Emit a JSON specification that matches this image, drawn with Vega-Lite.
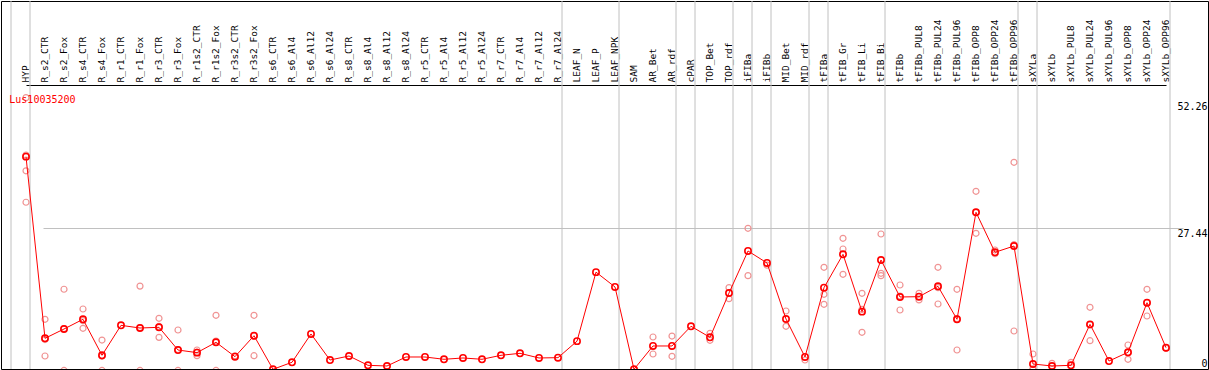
{
  "$schema": "https://vega.github.io/schema/vega-lite/v6.json",
  "autosize": "none",
  "padding": {"left": 1, "top": 1, "right": 1, "bottom": 1},
  "width": 1207,
  "height": 368,
  "background": "white",
  "config": {"view": {"stroke": "black", "strokeWidth": 1}},
  "title": {"text": "Lus10035200", "orient": "bottom", "anchor": "start", "frame": "group", "color": "#ff0000", "font": "DejaVu Sans Mono", "fontSize": 10, "fontWeight": "normal", "baseline": "alphabetic", "offset": 0, "dx": 8.3, "dy": -268.5},
  "datasets": {
    "means": [
      {"cat": "HYP", "v": 41.0}, {"cat": "R_s2_CTR", "v": 6.33}, {"cat": "R_s2_Fox", "v": 8.11}, {"cat": "R_s4_CTR", "v": 9.96}, {"cat": "R_s4_Fox", "v": 3.09},
      {"cat": "R_r1_CTR", "v": 8.81}, {"cat": "R_r1_Fox", "v": 8.3}, {"cat": "R_r3_CTR", "v": 8.43}, {"cat": "R_r3_Fox", "v": 4.1}, {"cat": "R_r1s2_CTR", "v": 3.6},
      {"cat": "R_r1s2_Fox", "v": 5.57}, {"cat": "R_r3s2_CTR", "v": 2.83}, {"cat": "R_r3s2_Fox", "v": 6.83}, {"cat": "R_s6_CTR", "v": 0.42}, {"cat": "R_s6_Al4", "v": 1.76},
      {"cat": "R_s6_Al12", "v": 7.16}, {"cat": "R_s6_Al24", "v": 2.19}, {"cat": "R_s8_CTR", "v": 2.96}, {"cat": "R_s8_Al4", "v": 1.18}, {"cat": "R_s8_Al12", "v": 1.05},
      {"cat": "R_s8_Al24", "v": 2.77}, {"cat": "R_r5_CTR", "v": 2.77}, {"cat": "R_r5_Al4", "v": 2.33}, {"cat": "R_r5_Al12", "v": 2.58}, {"cat": "R_r5_Al24", "v": 2.33},
      {"cat": "R_r7_CTR", "v": 3.09}, {"cat": "R_r7_Al4", "v": 3.47}, {"cat": "R_r7_Al12", "v": 2.58}, {"cat": "R_r7_Al24", "v": 2.64}, {"cat": "LEAF_N", "v": 5.79},
      {"cat": "LEAF_P", "v": 18.96}, {"cat": "LEAF_NPK", "v": 16.13}, {"cat": "SAM", "v": 0.42}, {"cat": "AR_Bet", "v": 4.87}, {"cat": "AR_rdf", "v": 4.87},
      {"cat": "cPAR", "v": 8.63}, {"cat": "TOP_Bet", "v": 6.52}, {"cat": "TOP_rdf", "v": 14.98}, {"cat": "iFIBa", "v": 23.0}, {"cat": "iFIBb", "v": 20.71},
      {"cat": "MID_Bet", "v": 10.02}, {"cat": "MID_rdf", "v": 2.77}, {"cat": "tFIBa", "v": 16.0}, {"cat": "tFIB_Gr", "v": 22.36}, {"cat": "tFIB_Li", "v": 11.42},
      {"cat": "tFIB_Bi", "v": 21.28}, {"cat": "tFIBb", "v": 14.22}, {"cat": "tFIBb_PUL8", "v": 14.28}, {"cat": "tFIBb_PUL24", "v": 16.26}, {"cat": "tFIBb_PUL96", "v": 9.96},
      {"cat": "tFIBb_OPP8", "v": 30.38}, {"cat": "tFIBb_OPP24", "v": 22.75}, {"cat": "tFIBb_OPP96", "v": 23.95}, {"cat": "sXYLa", "v": 1.43}, {"cat": "sXYLb", "v": 1.05},
      {"cat": "sXYLb_PUL8", "v": 1.18}, {"cat": "sXYLb_PUL24", "v": 9.0}, {"cat": "sXYLb_PUL96", "v": 2.0}, {"cat": "sXYLb_OPP8", "v": 3.66}, {"cat": "sXYLb_OPP24", "v": 13.13},
      {"cat": "sXYLb_OPP96", "v": 4.54}
    ],
    "reps": [
      {"cat": "HYP", "v": 52.26}, {"cat": "HYP", "v": 41.3}, {"cat": "HYP", "v": 38.3}, {"cat": "HYP", "v": 32.3},
      {"cat": "R_s2_CTR", "v": 9.96}, {"cat": "R_s2_CTR", "v": 6.1}, {"cat": "R_s2_CTR", "v": 2.96},
      {"cat": "R_s2_Fox", "v": 15.7}, {"cat": "R_s2_Fox", "v": 8.2}, {"cat": "R_s2_Fox", "v": 0.2},
      {"cat": "R_s4_CTR", "v": 11.93}, {"cat": "R_s4_CTR", "v": 9.7}, {"cat": "R_s4_CTR", "v": 8.24},
      {"cat": "R_s4_Fox", "v": 6.0}, {"cat": "R_s4_Fox", "v": 2.9}, {"cat": "R_s4_Fox", "v": 0.2},
      {"cat": "R_r1_Fox", "v": 16.3}, {"cat": "R_r1_Fox", "v": 8.4}, {"cat": "R_r1_Fox", "v": 0.2},
      {"cat": "R_r3_CTR", "v": 10.15}, {"cat": "R_r3_CTR", "v": 8.6}, {"cat": "R_r3_CTR", "v": 6.52},
      {"cat": "R_r3_Fox", "v": 7.92}, {"cat": "R_r3_Fox", "v": 4.2}, {"cat": "R_r3_Fox", "v": 0.2},
      {"cat": "R_r1s2_CTR", "v": 4.1}, {"cat": "R_r1s2_CTR", "v": 3.7}, {"cat": "R_r1s2_CTR", "v": 3.02},
      {"cat": "R_r1s2_Fox", "v": 10.72}, {"cat": "R_r1s2_Fox", "v": 5.8}, {"cat": "R_r1s2_Fox", "v": 0.2},
      {"cat": "R_r3s2_CTR", "v": 3.0},
      {"cat": "R_r3s2_Fox", "v": 10.72}, {"cat": "R_r3s2_Fox", "v": 6.75}, {"cat": "R_r3s2_Fox", "v": 3.02},
      {"cat": "AR_Bet", "v": 6.58}, {"cat": "AR_Bet", "v": 3.34},
      {"cat": "AR_rdf", "v": 6.77}, {"cat": "AR_rdf", "v": 2.9},
      {"cat": "TOP_Bet", "v": 7.28}, {"cat": "TOP_Bet", "v": 5.95},
      {"cat": "TOP_rdf", "v": 16.0}, {"cat": "TOP_rdf", "v": 13.9},
      {"cat": "iFIBa", "v": 27.33}, {"cat": "iFIBa", "v": 18.29},
      {"cat": "iFIBb", "v": 20.3},
      {"cat": "MID_Bet", "v": 11.55}, {"cat": "MID_Bet", "v": 8.63},
      {"cat": "MID_rdf", "v": 2.19},
      {"cat": "tFIBa", "v": 19.88}, {"cat": "tFIBa", "v": 14.73}, {"cat": "tFIBa", "v": 12.82},
      {"cat": "tFIB_Gr", "v": 25.42}, {"cat": "tFIB_Gr", "v": 23.38}, {"cat": "tFIB_Gr", "v": 18.55},
      {"cat": "tFIB_Li", "v": 14.92}, {"cat": "tFIB_Li", "v": 11.86}, {"cat": "tFIB_Li", "v": 7.48},
      {"cat": "tFIB_Bi", "v": 26.24}, {"cat": "tFIB_Bi", "v": 18.74}, {"cat": "tFIB_Bi", "v": 18.29},
      {"cat": "tFIBb", "v": 16.51}, {"cat": "tFIBb", "v": 14.41}, {"cat": "tFIBb", "v": 11.74},
      {"cat": "tFIBb_PUL8", "v": 14.92}, {"cat": "tFIBb_PUL8", "v": 14.3}, {"cat": "tFIBb_PUL8", "v": 13.65},
      {"cat": "tFIBb_PUL24", "v": 19.88}, {"cat": "tFIBb_PUL24", "v": 16.0}, {"cat": "tFIBb_PUL24", "v": 12.88},
      {"cat": "tFIBb_PUL96", "v": 15.69}, {"cat": "tFIBb_PUL96", "v": 10.09}, {"cat": "tFIBb_PUL96", "v": 4.1},
      {"cat": "tFIBb_OPP8", "v": 34.39}, {"cat": "tFIBb_OPP8", "v": 30.38}, {"cat": "tFIBb_OPP8", "v": 26.37},
      {"cat": "tFIBb_OPP24", "v": 23.19}, {"cat": "tFIBb_OPP24", "v": 22.5},
      {"cat": "tFIBb_OPP96", "v": 39.92}, {"cat": "tFIBb_OPP96", "v": 24.2}, {"cat": "tFIBb_OPP96", "v": 7.73},
      {"cat": "sXYLa", "v": 3.34}, {"cat": "sXYLa", "v": 0.5}, {"cat": "sXYLa", "v": 0.4},
      {"cat": "sXYLb", "v": 1.56},
      {"cat": "sXYLb_PUL8", "v": 1.76},
      {"cat": "sXYLb_PUL24", "v": 12.25}, {"cat": "sXYLb_PUL24", "v": 8.87}, {"cat": "sXYLb_PUL24", "v": 5.88},
      {"cat": "sXYLb_OPP8", "v": 5.06}, {"cat": "sXYLb_OPP8", "v": 3.59}, {"cat": "sXYLb_OPP8", "v": 2.33},
      {"cat": "sXYLb_OPP24", "v": 15.69}, {"cat": "sXYLb_OPP24", "v": 13.1}, {"cat": "sXYLb_OPP24", "v": 10.59},
      {"cat": "sXYLb_OPP96", "v": 4.43}
    ],
    "groupEnds": [
      {"cat": "HYP"}, {"cat": "R_r7_Al24"}, {"cat": "LEAF_NPK"}, {"cat": "AR_rdf"}, {"cat": "cPAR"}, {"cat": "TOP_rdf"}, {"cat": "iFIBa"},
      {"cat": "iFIBb"}, {"cat": "MID_rdf"}, {"cat": "tFIBa"}, {"cat": "tFIB_Bi"}, {"cat": "tFIBb_OPP96"}, {"cat": "sXYLa"}, {"cat": "sXYLb_OPP96"}
    ],
    "groupStarts": [{"cat": "HYP"}]
  },
  "encoding": {
    "x": {
      "field": "cat", "type": "nominal",
      "scale": {
        "type": "point", "padding": 0, "range": [25, 1165],
        "domain": ["HYP", "R_s2_CTR", "R_s2_Fox", "R_s4_CTR", "R_s4_Fox", "R_r1_CTR", "R_r1_Fox", "R_r3_CTR", "R_r3_Fox", "R_r1s2_CTR", "R_r1s2_Fox", "R_r3s2_CTR", "R_r3s2_Fox", "R_s6_CTR", "R_s6_Al4", "R_s6_Al12", "R_s6_Al24", "R_s8_CTR", "R_s8_Al4", "R_s8_Al12", "R_s8_Al24", "R_r5_CTR", "R_r5_Al4", "R_r5_Al12", "R_r5_Al24", "R_r7_CTR", "R_r7_Al4", "R_r7_Al12", "R_r7_Al24", "LEAF_N", "LEAF_P", "LEAF_NPK", "SAM", "AR_Bet", "AR_rdf", "cPAR", "TOP_Bet", "TOP_rdf", "iFIBa", "iFIBb", "MID_Bet", "MID_rdf", "tFIBa", "tFIB_Gr", "tFIB_Li", "tFIB_Bi", "tFIBb", "tFIBb_PUL8", "tFIBb_PUL24", "tFIBb_PUL96", "tFIBb_OPP8", "tFIBb_OPP24", "tFIBb_OPP96", "sXYLa", "sXYLb", "sXYLb_PUL8", "sXYLb_PUL24", "sXYLb_PUL96", "sXYLb_OPP8", "sXYLb_OPP24", "sXYLb_OPP96"]
      },
      "axis": {
        "orient": "top", "offset": -84, "title": null, "labelAngle": -90, "labelPadding": 3,
        "labelFont": "DejaVu Sans Mono", "labelFontSize": 9.5, "labelColor": "black",
        "ticks": false, "domain": true, "domainColor": "black", "domainWidth": 1, "grid": false,
        "labelOverlap": false, "labelBound": false, "labelOffset": -1
      }
    }
  },
  "layer": [
    {
      "data": {"name": "groupEnds"},
      "mark": {"type": "rule", "color": "#c0c0c0", "strokeWidth": 1, "xOffset": 4}
    },
    {
      "data": {"name": "groupStarts"},
      "mark": {"type": "rule", "color": "#c0c0c0", "strokeWidth": 1, "xOffset": -15}
    },
    {
      "data": {"name": "reps"},
      "mark": {"type": "point", "shape": "circle", "filled": false, "stroke": "#f09494", "strokeWidth": 1.2, "size": 36, "opacity": 1, "clip": true},
      "encoding": {
        "y": {
          "field": "v", "type": "quantitative",
          "scale": {"domain": [0, 70.706], "range": [370.5, 0], "nice": false, "zero": false},
          "axis": {
            "orient": "right", "values": [0, 27.44, 52.26], "title": null,
            "labelExpr": "datum.value == 0 ? '0' : format(datum.value, '.2f')",
            "domain": false, "ticks": false, "labelAlign": "right", "labelPadding": -1,
            "labelFont": "DejaVu Sans Mono", "labelFontSize": 10, "labelColor": "black",
            "labelBaseline": "alphabetic", "labelBound": false, "labelOverlap": false, "labelFlush": false,
            "labelOffset": {"condition": [{"test": "datum.value == 0", "value": -5.5}, {"test": "datum.value > 50", "value": 12.3}], "value": 8.3},
            "grid": true, "gridColor": "#c0c0c0", "gridWidth": 1,
            "gridOpacity": {"condition": {"test": "datum.value == 27.44", "value": 1}, "value": 0}
          }
        }
      }
    },
    {
      "data": {"name": "means"},
      "mark": {"type": "line", "color": "#ff0000", "strokeWidth": 1, "clip": true},
      "encoding": {"y": {"field": "v", "type": "quantitative"}}
    },
    {
      "data": {"name": "means"},
      "mark": {"type": "point", "shape": "circle", "filled": false, "stroke": "#ff0000", "strokeWidth": 1.6, "size": 40, "opacity": 1, "clip": true},
      "encoding": {"y": {"field": "v", "type": "quantitative"}}
    }
  ]
}
